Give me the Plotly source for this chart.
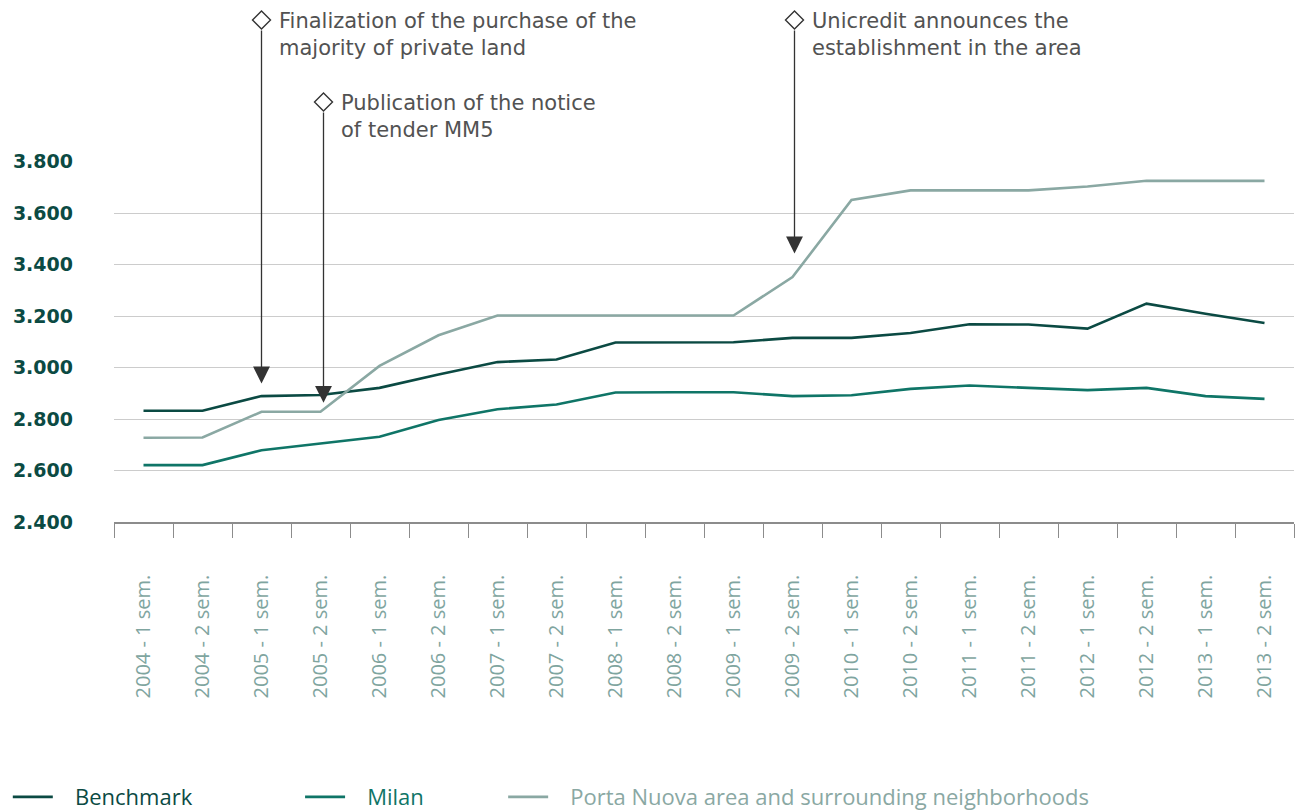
import plotly.graph_objects as go

# Half-year periods
periods = [
    "2004 - 1 sem.", "2004 - 2 sem.", "2005 - 1 sem.", "2005 - 2 sem.",
    "2006 - 1 sem.", "2006 - 2 sem.", "2007 - 1 sem.", "2007 - 2 sem.",
    "2008 - 1 sem.", "2008 - 2 sem.", "2009 - 1 sem.", "2009 - 2 sem.",
    "2010 - 1 sem.", "2010 - 2 sem.", "2011 - 1 sem.", "2011 - 2 sem.",
    "2012 - 1 sem.", "2012 - 2 sem.", "2013 - 1 sem.", "2013 - 2 sem.",
]

# Prices (EUR / sqm)
benchmark = [2832, 2832, 2889, 2893, 2921, 2973, 3021, 3031, 3097, 3097,
             3098, 3115, 3115, 3134, 3168, 3167, 3151, 3248, 3209, 3173]
milan = [2621, 2621, 2679, 2705, 2731, 2796, 2838, 2856, 2903, 2904,
         2904, 2889, 2892, 2917, 2930, 2921, 2912, 2921, 2889, 2878]
porta_nuova = [2727, 2728, 2828, 2828, 3006, 3125, 3202, 3202, 3202, 3202,
               3202, 3351, 3651, 3688, 3688, 3688, 3703, 3725, 3725, 3725]

y_tick_vals = [2400, 2600, 2800, 3000, 3200, 3400, 3600, 3800]
y_tick_text = ["2.400", "2.600", "2.800", "3.000", "3.200", "3.400", "3.600", "3.800"]

# Events: period index, arrow tip value, caption lines
event_idx = [2, 3, 11]
event_tip = [2938, 2863, 3443]
event_lines = [
    ["Finalization of the purchase of the", "majority of private land"],
    ["Publication of the notice", "of tender MM5"],
    ["Unicredit announces the", "establishment in the area"],
]

# Layout of the event markers: diamond height (fraction of plot height)
# and small horizontal nudges in px
event_level = [1.3906, 1.1634, 1.3906]
event_nudge = [0, 3, 2]

C_BENCH = "#0b4a43"
C_MILAN = "#0f7567"
C_PORTA = "#8aa8a3"
C_ARROW = "#333333"
C_NOTE = "#525252"

FONT = "Open Sans"
NOTE_FONT = "DejaVu Sans"

Y0, Y1 = 2400, 3802
PLOT_H = 361  # plot area height in px
units_per_px = (Y1 - Y0) / PLOT_H
LINE_GAP = 27  # px between caption lines

fig = go.Figure()

series = [
    ("Benchmark", benchmark, C_BENCH),
    ("Milan", milan, C_MILAN),
    ("Porta Nuova area and surrounding neighborhoods", porta_nuova, C_PORTA),
]
pads = ["\u00a0" * 18, "\u00a0" * 13, ""]
for (name, vals, col), pad in zip(series, pads):
    fig.add_trace(go.Scatter(
        x=periods, y=vals, mode="lines",
        line=dict(color=col, width=2.6),
        name=f"\u00a0\u00a0\u00a0<span style='color:{col}'>{name}</span>{pad}",
        hoverinfo="x+y",
    ))

annotations = []
shapes = []
for i, tip, lvl, dx, lines in zip(event_idx, event_tip, event_level,
                                  event_nudge, event_lines):
    # tail sits just under the diamond (9 px below its centre)
    tail = Y0 + (lvl * PLOT_H - 9) * units_per_px
    annotations.append(dict(
        x=periods[i], y=tip, xref="x", yref="y",
        ax=periods[i], ay=tail, axref="x", ayref="y", xshift=dx,
        showarrow=True, arrowhead=2, arrowsize=2.6, arrowwidth=1.3,
        arrowcolor=C_ARROW, text="",
    ))
    for k, line in enumerate(lines):
        annotations.append(dict(
            x=periods[i], y=lvl - (1 + k * LINE_GAP) / PLOT_H,
            xref="x", yref="paper",
            xanchor="left", yanchor="middle", xshift=dx + 15,
            text=line, showarrow=False, align="left",
            font=dict(family=NOTE_FONT, size=21, color=C_NOTE),
        ))
    shapes.append(dict(
        type="path", xref="x", yref="paper",
        xsizemode="pixel", ysizemode="pixel",
        xanchor=periods[i], yanchor=lvl,
        path=f"M {dx} 9 L {dx + 9} 0 L {dx} -9 L {dx - 9} 0 Z",
        line=dict(color=C_ARROW, width=1.4), fillcolor="white",
    ))

fig.update_layout(
    width=1301, height=810,
    margin=dict(l=114, r=7, t=161, b=288, autoexpand=False),
    paper_bgcolor="white", plot_bgcolor="white",
    showlegend=True,
    legend=dict(
        orientation="h", x=0.006, xref="container", xanchor="left",
        y=0.016, yref="container", yanchor="middle",
        font=dict(family=FONT, size=22, color="#666666"),
        itemwidth=40, traceorder="normal",
    ),
    annotations=annotations,
    shapes=shapes,
    xaxis=dict(
        type="category", categoryorder="array", categoryarray=periods,
        range=[-0.5, 19.5], showgrid=False, zeroline=False,
        showline=True, linecolor="#8c8c8c", linewidth=1.5,
        ticks="outside", tickson="boundaries", ticklen=14,
        tickcolor="#8c8c8c", tickwidth=1.3,
        tickangle=-90, ticklabelstandoff=43,
        tickfont=dict(family=FONT, size=20, color="#7fa59f"),
    ),
    yaxis=dict(
        range=[Y0, Y1], tickvals=y_tick_vals, ticktext=y_tick_text,
        showgrid=True, gridcolor="#cccccc", gridwidth=1.2,
        zeroline=False, showline=False, ticks="",
        ticklabelstandoff=40,
        tickfont=dict(family="DejaVu Sans", size=19, color=C_BENCH, weight="bold"),
    ),
)

fig.write_html("out.html")
